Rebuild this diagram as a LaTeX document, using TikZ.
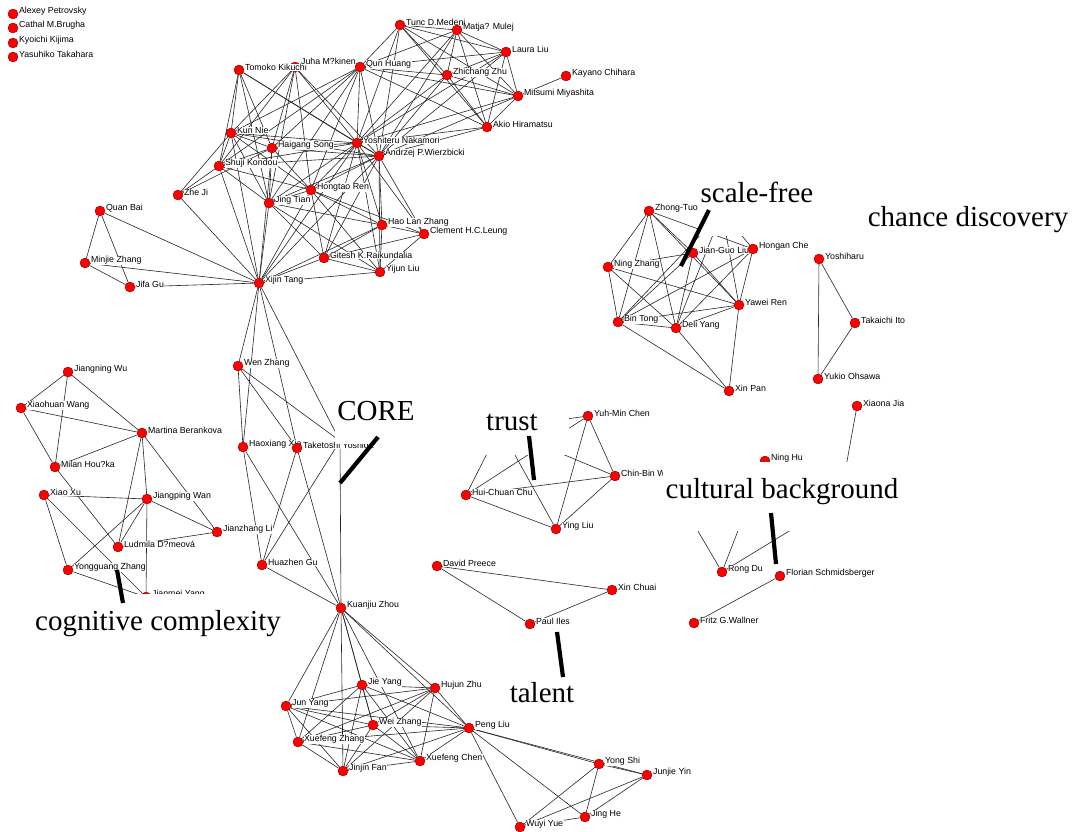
\documentclass[tikz,border=0pt]{standalone}
\usepackage{fontspec}
\setmainfont{Liberation Serif}
\newfontfamily\labfont{Liberation Sans}
\pgfdeclarelayer{edges}
\pgfdeclarelayer{labels}
\pgfdeclarelayer{top}
\pgfsetlayers{edges,labels,main,top}
\tikzset{
 pers/.style={circle, fill=red, draw=red!45!black, line width=0.35pt, inner sep=0pt, minimum size=10pt},
 lab/.style={anchor=west, fill=white, inner sep=0.4pt, font=\labfont\fontsize{8.8}{9}\selectfont},
 edge/.style={draw=black!85, line width=0.6pt},
 big/.style={font=\fontsize{29}{30}\selectfont, anchor=base, inner sep=0pt},
 bar/.style={line width=4.2pt, black},
 box/.style={fill=white},
}
\newcommand\person[4]{%
 \node[pers] (#1) at (#2,#3) {};
 \begin{pgfonlayer}{labels}\node[lab] at (#2+5.5,#3-2.5) {#4};\end{pgfonlayer}}
\begin{document}
\begin{tikzpicture}[x=1pt,y=-1pt]
\useasboundingbox (0,0) rectangle (1075,831);
\begin{pgfonlayer}{edges}\fill[white] (0,0) rectangle (1075,831);\end{pgfonlayer}
% isolated
\person{AP}{13}{14}{Alexey Petrovsky}
\person{CB}{13}{28}{Cathal M.Brugha}
\person{KK}{13}{43}{Kyoichi Kijima}
\person{YT}{13}{57}{Yasuhiko Takahara}
% top cluster
\person{TK}{239}{70}{Tomoko Kikuchi}
\begin{pgfonlayer}{edges}\node[pers] (JM) at (295,67) {};\end{pgfonlayer}
\begin{pgfonlayer}{labels}\node[lab] at (300.5,61.5) {Juha M?kinen};\end{pgfonlayer}
\person{QH}{360}{67}{Qun Huang}
\person{TM}{400}{25}{Tunc D.Medeni}
\person{MM}{457}{30}{Matja? Mulej}
\person{LL}{506}{52}{Laura Liu}
\person{ZZ}{447}{75}{Zhichang Zhu}
\person{KC}{566}{76}{Kayano Chihara}
\person{MY}{518}{96}{Mitsumi Miyashita}
\person{AH}{487}{127}{Akio Hiramatsu}
\person{KN}{231}{133}{Kun Nie}
\person{HS}{272}{148}{Haigang Song}
\person{SK}{219}{166}{Shuji Kondou}
\person{YN}{357}{143}{Yoshiteru Nakamori}
\person{AW}{379}{156}{Andrzej P.Wierzbicki}
\person{HR}{311}{190}{Hongtao Ren}
\person{JT}{269}{203}{Jing Tian}
\person{ZJ}{178}{195}{Zhe Ji}
\person{HZ}{382}{225}{Hao Lan Zhang}
\person{CL}{424}{234}{Clement H.C.Leung}
\person{GR}{324}{258}{Gitesh K.Raikundalia}
\person{YL}{380}{272}{Yijun Liu}
\person{XT}{259}{283}{Xijin Tang}
\person{QB}{100}{211}{Quan Bai}
\person{MZ}{85}{263}{Minjie Zhang}
\person{JG}{130}{287}{Jifa Gu}
% left cluster
\person{JW}{68}{372}{Jiangning Wu}
\person{XW}{21}{408}{Xiaohuan Wang}
\person{MB}{142}{433}{Martina Berankova}
\person{MH}{55}{467}{Milan Hou?ka}
\person{XX}{44}{495}{Xiao Xu}
\person{JP}{147}{499}{Jiangping Wan}
\person{JL}{217}{532}{Jianzhang Li}
\person{LD}{118}{547}{Ludmila D?meová}
\person{YZ}{68}{570}{Yongguang Zhang}
\person{JY}{146}{597}{Jianmei Yang}
% middle
\person{WZ}{238}{366}{Wen Zhang}
\person{HX}{243}{447}{Haoxiang Xia}
\person{TY}{297}{448}{Taketoshi Yoshida}
\person{HG}{262}{565}{Huazhen Gu}
\person{KZ}{341}{608}{Kuanjiu Zhou}
\coordinate (H1) at (340,441);
% trust
\person{YM}{588}{416}{Yuh-Min Chen}
\person{CW}{615}{476}{Chin-Bin W}
\person{HC2}{466}{495}{Hui-Chuan Chu}
\person{YLi}{556}{529}{Ying Liu}
\coordinate (T0) at (500,428);
\person{DP}{437}{566}{David Preece}
\person{XCh}{612}{590}{Xin Chuai}
\person{PI}{530}{624}{Paul Iles}
% scale-free
\person{ZT}{649}{211}{Zhong-Tuo}
\person{JGL}{693}{253}{Jian-Guo Liu}
\person{HCh}{753}{249}{Hongan Che}
\person{NZ}{608}{267}{Ning Zhang}
\person{YR}{739}{305}{Yawei Ren}
\person{BT}{618}{322}{Bin Tong}
\person{DY}{676}{328}{Deli Yang}
\person{XP}{729}{391}{Xin Pan}
\coordinate (S0) at (722,212);
\person{YO}{819}{259}{Yoshiharu}
\person{TI}{855}{323}{Takaichi Ito}
\person{YU}{818}{379}{Yukio Ohsawa}
\person{XJ}{857}{406}{Xiaona Jia}
\person{NH}{765}{461}{Ning Hu}
\person{RD}{722}{572}{Rong Du}
\person{FS}{780}{576}{Florian Schmidsberger}
\person{FW}{694}{623}{Fritz G.Wallner}
\coordinate (C1) at (840,500);
\coordinate (C2) at (675,492);
% bottom
\person{JiY}{362}{685}{Jie Yang}
\person{HuZ}{435}{688}{Hujun Zhu}
\person{JuY}{286}{706}{Jun Yang}
\person{WeZ}{373}{725}{Wei Zhang}
\person{PL}{469}{728}{Peng Liu}
\person{XZ}{298}{742}{Xuefeng Zhang}
\person{XC}{420}{761}{Xuefeng Chen}
\person{JF}{343}{771}{Jinjin Fan}
\person{YS}{599}{764}{Yong Shi}
\person{JjY}{647}{775}{Junjie Yin}
\person{JH}{585}{817}{Jing He}
\person{WY}{520}{827}{Wuyi Yue}

\begin{pgfonlayer}{edges}
\foreach \a/\b in {QB/MZ, QB/JG, QB/XT, MZ/JG, MZ/XT, JG/XT, ZJ/XT, ZJ/KN, ZJ/SK, ZJ/HS,
 KN/HS, KN/SK, KN/YN, KN/AW, KN/HR, KN/JT, HS/SK, HS/YN, HS/AW, HS/HR, HS/JT, SK/YN, SK/AW, SK/HR, SK/JT,
 YN/AW, YN/HR, YN/JT, AW/HR, AW/JT, HR/JT,
 TK/KN, TK/SK, TK/HS, TK/JT, TK/YN, TK/AW,
 JM/KN, JM/SK, JM/HS, JM/JT, JM/HR, JM/YN, JM/AW,
 QH/KN, QH/SK, QH/HS, QH/YN, QH/AW, QH/HR, QH/JT,
 XT/KN, XT/SK, XT/HS, XT/JT, XT/YN, XT/AW, XT/HR, XT/GR, XT/YL, XT/HZ,
 HZ/YN, HZ/AW, HZ/HR, HZ/JT, HZ/CL, HZ/GR, HZ/YL, CL/YN, CL/AW, CL/HR, CL/GR, CL/YL,
 GR/YN, GR/AW, GR/HR, GR/JT, GR/YL, YL/YN, YL/AW, YL/HR, YL/JT,
 TM/MM, TM/LL, TM/ZZ, TM/MY, TM/AH, MM/LL, MM/ZZ, MM/MY, MM/AH, LL/ZZ, LL/MY, LL/AH, ZZ/MY, ZZ/AH, MY/AH,
 QH/TM, QH/MM, QH/LL, QH/ZZ, QH/MY, QH/AH, YN/TM, YN/MM, YN/LL, YN/ZZ, YN/MY, YN/AH,
 AW/TM, AW/MM, AW/LL, AW/ZZ, AW/MY, AW/AH, MY/KC,
 XT/WZ, XT/HX, XT/TY, XT/H1, WZ/HX, WZ/TY, WZ/H1, HX/HG, HX/KZ, TY/HG, TY/KZ, H1/HG, H1/KZ, HG/KZ,
 JW/XW, JW/MH, JW/MB, XW/MB, XW/MH, MH/MB, MB/JP, MB/LD, MB/JL, XX/JP, JP/LD, JP/YZ, JP/JL, JP/JY,
 LD/JL, XX/YZ, XX/JY, MH/LD, YZ/JY,
 KZ/JuY, KZ/XZ, KZ/JF, KZ/JiY, KZ/WeZ, KZ/HuZ, KZ/PL, KZ/XC,
 JiY/HuZ, JiY/JuY, JiY/WeZ, JiY/XZ, JiY/JF, JiY/XC, JiY/PL, HuZ/JuY, HuZ/WeZ, HuZ/XZ, HuZ/JF, HuZ/XC, HuZ/PL,
 JuY/WeZ, JuY/XZ, JuY/JF, JuY/XC, JuY/PL, WeZ/XZ, WeZ/JF, WeZ/XC, WeZ/PL, XZ/JF, XZ/XC, XZ/PL, JF/XC, JF/PL, XC/PL,
 PL/YS, PL/JjY, PL/WY, PL/JH, YS/JjY, YS/JH, YS/WY, JjY/JH, JjY/WY, JH/WY,
 HC2/YLi, HC2/CW, HC2/YM, HC2/T0, YLi/YM, YLi/CW, YLi/T0, YM/CW, YM/T0, CW/T0,
 DP/XCh, DP/PI, PI/XCh,
 ZT/NZ, ZT/BT, ZT/DY, ZT/JGL, ZT/YR, ZT/HCh, NZ/JGL, NZ/BT, NZ/DY, NZ/YR, JGL/BT, JGL/DY, JGL/YR,
 HCh/YR, HCh/DY, HCh/BT, YR/BT, YR/DY, YR/XP, BT/DY, BT/XP, DY/XP,
 S0/BT, S0/DY, S0/HCh, S0/YR,
 YO/TI, YO/YU, TI/YU, XJ/C1, RD/C1, RD/NH, RD/C2, FS/FW}
 {\draw[edge] (\a) -- (\b);}
\end{pgfonlayer}

\begin{pgfonlayer}{top}
\fill[white] (698,168) rectangle (820,236);
\node[big] (sfree) at (757,202) {scale-free};
\fill[white] (862,195) rectangle (1075,238);
\node[big] (chance) at (968,226) {chance discovery};
\fill[white] (335,385) rectangle (422,444);
\node[big] (core) at (376,420) {CORE};
\fill[white] (480,398) rectangle (569,455);
\node[big] (trust) at (512,430) {trust};
\fill[white] (663,462) rectangle (908,531);
\node[big] (cult) at (782,498) {cultural background};
\fill[white] (28,594) rectangle (290,642);
\node[big] (cogn) at (158,630) {cognitive complexity};
\fill[white] (505,672) rectangle (580,712);
\node[big] (tal) at (542,702) {talent};
\coordinate (sf1) at (709,210); \coordinate (sf2) at (681,266);
\coordinate (co1) at (378,437); \coordinate (co2) at (340,483);
\coordinate (tr1) at (529,436); \coordinate (tr2) at (534,480);
\coordinate (cu1) at (771,513); \coordinate (cu2) at (776,564);
\coordinate (cg1) at (117,570); \coordinate (cg2) at (123,603);
\coordinate (ta1) at (557,632); \coordinate (ta2) at (563,677);
\draw[bar] (sf1) -- (sf2);
\draw[bar] (co1) -- (co2);
\draw[bar] (tr1) -- (tr2);
\draw[bar] (cu1) -- (cu2);
\draw[bar] (cg1) -- (cg2);
\draw[bar] (ta1) -- (ta2);
\end{pgfonlayer}
\end{tikzpicture}
\end{document}
